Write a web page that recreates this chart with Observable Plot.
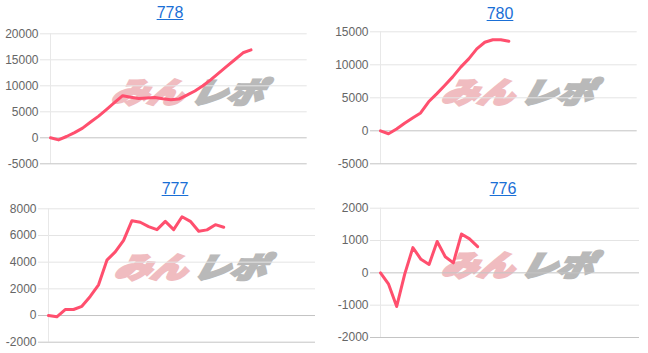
<!DOCTYPE html>
<html>
<head>
<meta charset="utf-8">
<script src="https://cdn.jsdelivr.net/npm/d3@7"></script>
<script src="https://cdn.jsdelivr.net/npm/@observablehq/plot@0.6"></script>
<style>
  body { margin: 0; background: #fff; font-family: "Liberation Sans", Arial, sans-serif; }
  #root { position: relative; width: 648px; height: 353px; overflow: hidden; }
  .title { position: absolute; width: 100px; text-align: center; font-size: 16px; line-height: 20px; }
  .title a { color: #1a6fd6; text-decoration: underline; }
  .wm { position: absolute; white-space: nowrap; font-family: "Noto Sans CJK JP", sans-serif;
        font-weight: 900; font-style: italic; font-size: 29px; line-height: 30px;
        transform: translate(-50%, -50%) skewX(-14deg) scaleX(1.25); }
  .wm .a { color: #f0bcc0; -webkit-text-stroke: 2.5px #f0bcc0; }
  .wm .b { color: #b9b9b9; -webkit-text-stroke: 2.5px #b9b9b9; margin-left: 5px; }
  .plot { position: absolute; }
</style>
</head>
<body>
<div id="root"></div>
<script>
// ---- data ----
const titles = ["778", "780", "777", "776"];
const values778 = [0, -400, 250, 1000, 1850, 3030, 4170, 5480, 6800, 8100, 7800, 7550, 7650, 7750, 7500, 7300, 7450, 8200, 9000, 10000, 11200, 12500, 13800, 15050, 16350, 16900];
const values780 = [0, -450, 280, 1150, 1950, 2700, 4400, 5600, 6860, 8170, 9650, 10900, 12420, 13420, 13800, 13780, 13570];
const values777 = [0, -100, 450, 450, 690, 1430, 2300, 4150, 4770, 5630, 7110, 6990, 6670, 6440, 7060, 6440, 7400, 7060, 6320, 6420, 6810, 6620];
const values776 = [0, -350, -1040, -30, 780, 420, 260, 970, 500, 310, 1200, 1050, 810];
const ticks778 = [-5000, 0, 5000, 10000, 15000, 20000];
const ticks780 = [-5000, 0, 5000, 10000, 15000];
const ticks777 = [-2000, 0, 2000, 4000, 6000, 8000];
const ticks776 = [-2000, -1000, 0, 1000, 2000];
const xSlots = 32;

// ---- layout ----
const panels = [
  {title: titles[0], values: values778, ticks: ticks778, left: 0,   top: 0,   h: 176, mt: 33.3, mb: 12.7, ml: 50, mr: 17.3, tx: 170, ty: 3,   wx: 189, wy: 90},
  {title: titles[1], values: values780, ticks: ticks780, left: 324, top: 0,   h: 176, mt: 31.3, mb: 12.7, ml: 56, mr: 11.3, tx: 176, ty: 3.5, wx: 195, wy: 90},
  {title: titles[2], values: values777, ticks: ticks777, left: 0,   top: 176, h: 177, mt: 32.3, mb: 11.3, ml: 48, mr: 9,    tx: 175, ty: 3,   wx: 192, wy: 89},
  {title: titles[3], values: values776, ticks: ticks776, left: 324, top: 176, h: 177, mt: 31.7, mb: 16,   ml: 56, mr: 9,    tx: 179, ty: 3,   wx: 195, wy: 87}
];

const root = document.getElementById("root");
for (const p of panels) {
  const data = p.values.map((v, i) => ({i, v}));
  const lo = d3.min(p.ticks), hi = d3.max(p.ticks);
  const dark = [0, lo];
  const light = p.ticks.filter(t => !dark.includes(t));

  // watermark
  const wm = document.createElement("div");
  wm.className = "wm";
  wm.style.left = (p.left + p.wx) + "px";
  wm.style.top = (p.top + p.wy) + "px";
  wm.innerHTML = '<span class="a">みん</span><span class="b">レポ</span>';
  root.appendChild(wm);

  const chart = Plot.plot({
    width: 324,
    height: p.h,
    marginTop: p.mt,
    marginBottom: p.mb,
    marginLeft: p.ml,
    marginRight: p.mr,
    x: {domain: [0, xSlots], axis: null},
    y: {domain: [lo, hi], axis: null},
    style: {background: "transparent", fontFamily: "'Liberation Sans', Arial, sans-serif", fontSize: "12px"},
    marks: [
      Plot.ruleY(light, {stroke: "#e4e4e4"}),
      Plot.ruleX([0], {stroke: "#e8e8e8"}),
      Plot.ruleY(dark, {stroke: "#c4c4c4"}),
      Plot.axisY(light, {label: null, tickSize: 10, tickPadding: 2, stroke: "#e4e4e4", fill: "#666", fontSize: 12, tickFormat: d => String(d)}),
      Plot.axisY(dark, {label: null, tickSize: 10, tickPadding: 2, stroke: "#c4c4c4", fill: "#666", fontSize: 12, tickFormat: d => String(d)}),
      Plot.line(data, {x: "i", y: "v", stroke: "#ff4f6e", strokeWidth: 3, strokeLinejoin: "round"})
    ]
  });
  chart.classList.add("plot");
  chart.style.left = p.left + "px";
  chart.style.top = p.top + "px";
  root.appendChild(chart);

  const t = document.createElement("div");
  t.className = "title";
  t.style.left = (p.left + p.tx - 50) + "px";
  t.style.top = (p.top + p.ty) + "px";
  t.innerHTML = '<a href="#">' + p.title + '</a>';
  root.appendChild(t);
}
</script>
</body>
</html>
